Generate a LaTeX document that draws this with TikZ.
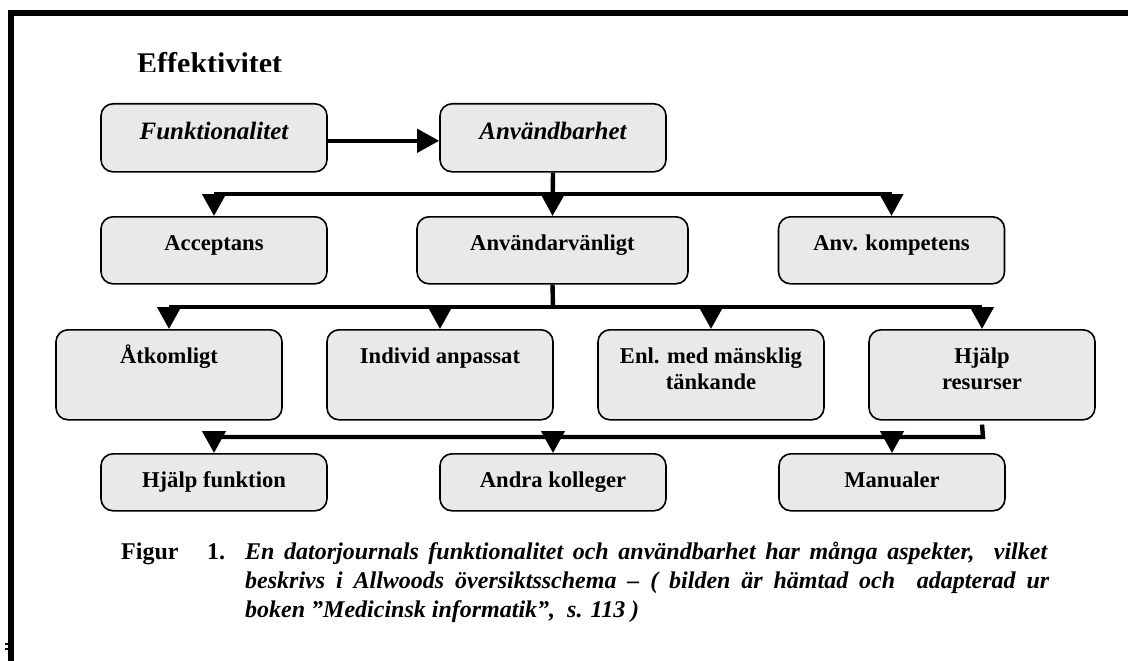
\documentclass[tikz,border=0pt]{standalone}
\usepackage{fontspec}
\setmainfont{Liberation Serif}
\usetikzlibrary{arrows.meta}
\definecolor{boxgray}{RGB}{233,233,233}

\begin{document}
\begin{tikzpicture}[x=1pt,y=-1pt,
  box/.style={draw, line width=1.6pt, rounded corners=12pt, fill=boxgray,
    inner sep=0pt, minimum width=226pt, text height=34pt, anchor=north,
    font=\fontsize{22.6}{26}\selectfont\bfseries},
  rowA/.style={text height=36pt, text depth=32pt, font=\fontsize{25}{29}\selectfont\bfseries\itshape},
  rowB/.style={text depth=33pt},
  rowC/.style={text depth=56pt},
  rowD/.style={text depth=23pt},
  conn/.style={line width=4.4pt},
  arr/.style={conn, -{Triangle[width=23pt,length=22pt]}},
  captext/.style={anchor=base west, inner sep=0pt, font=\fontsize{24}{28}\selectfont\bfseries},
]
\useasboundingbox (0,0) rectangle (1128,661);

% page frame
\draw[line width=6pt, line join=miter] (11,661) -- (11,13) -- (1128,13);
\fill (5,643) rectangle (8,645);
\fill (5,648) rectangle (8,650);

% heading, cut off at its base line
\begin{scope}
  \clip (100,40) rectangle (400,72);
  \node[anchor=base west, inner sep=0pt, font=\fontsize{30}{34}\selectfont\bfseries]
    (title) at (137,74) {Effektivitet};
\end{scope}

% boxes
\node[box, rowA] (fun) at (214,103) {Funktionalitet};
\node[box, rowA] (anv) at (553,103) {Användbarhet};

\node[box, rowB] (acc) at (214,216) {Acceptans};
\node[box, rowB, minimum width=271pt] (avl) at (552.5,216) {Användarvänligt};
\node[box, rowB] (komp) at (891.5,216) {Anv. kompetens};

\node[box, rowC] (atk) at (169,329) {Åtkomligt};
\node[box, rowC] (ind) at (440,329) {Individ anpassat};
\node[box, rowC] (enl) at (711,329) {\begin{tabular}[t]{@{}c@{}}Enl. med mänsklig\\tänkande\end{tabular}};
\node[box, rowC] (hres) at (982,329) {\begin{tabular}[t]{@{}c@{}}Hjälp\\resurser\end{tabular}};

\node[box, rowD] (hfun) at (214,453) {Hjälp funktion};
\node[box, rowD] (andra) at (553,453) {Andra kolleger};
\node[box, rowD] (man) at (892,453) {Manualer};

% bus lines
\coordinate (busA) at (553,194);
\coordinate (busB) at (553,307);
\coordinate (busC) at (983,437);

% connectors
\draw[arr] ([yshift=-3pt]fun.east) -- ([yshift=-3pt]anv.west);

\draw[arr] (anv.south) -- (avl.north);
\draw[conn] (acc.north |- busA) -- (komp.north |- busA);
\draw[arr] (acc.north |- busA) -- (acc.north);
\draw[arr] (komp.north |- busA) -- (komp.north);

\draw[conn] (avl.south) -- (busB);
\draw[conn] (atk.north |- busB) -- (hres.north |- busB);
\draw[arr] (atk.north |- busB) -- (atk.north);
\draw[arr] (ind.north |- busB) -- (ind.north);
\draw[arr] (enl.north |- busB) -- (enl.north);
\draw[arr] (hres.north |- busB) -- (hres.north);

\draw[conn, line join=miter] ([yshift=-4pt]hres.south) -- (busC) -- (hfun.north |- busC);
\draw[arr] (hfun.north |- busC) -- (hfun.north);
\draw[arr] (andra.north |- busC) -- (andra.north);
\draw[arr] (man.north |- busC) -- (man.north);

% caption
\node[captext] (figlab) at (121,559) {Figur};
\node[captext] (fignum) at (207,559) {1.};
\node[captext] (capA) at (245,559) {\makebox[802pt][s]{\itshape En datorjournals funktionalitet och användbarhet har många aspekter,\ \ vilket}};
\node[captext] (capB) at (245,588) {\makebox[804pt][s]{\itshape beskrivs i Allwoods översiktsschema – ( bilden är hämtad och\ \ adapterad ur}};
\node[captext] (capC) at (245,617) {\itshape boken ”Medicinsk informatik”,\ \ s. 113 )};
\end{tikzpicture}
\end{document}
